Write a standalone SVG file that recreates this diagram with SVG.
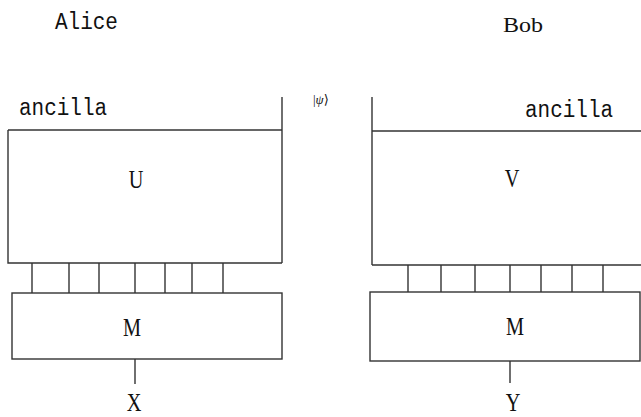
<svg xmlns="http://www.w3.org/2000/svg" width="641" height="417" viewBox="0 0 641 417">
<style>
.ln{stroke:#333;stroke-width:1.4;fill:none}
.bx{stroke:#333;stroke-width:1.4;fill:#fff}
.mono{font-family:"Liberation Mono","DejaVu Sans Mono",monospace;font-size:21px;fill:#111}
.ser{font-family:"Liberation Serif","DejaVu Serif",serif;fill:#111}
.big{font-size:26px;text-anchor:middle}
</style>
<rect width="641" height="417" fill="#fff"/>
<text class="mono" transform="translate(55,29) scale(1,1.15)">Alice</text>
<text class="ser" x="503" y="32" font-size="21" textLength="40" lengthAdjust="spacingAndGlyphs">Bob</text>
<text class="ser" x="313" y="104" font-size="13">|<tspan font-style="italic">ψ</tspan>⟩</text>
<g id="alice-U">
<line class="ln" x1="8" y1="130" x2="282" y2="130"/>
<line class="ln" x1="282" y1="97" x2="282" y2="263"/>
<polyline class="ln" points="8,130 8,263 282,263"/>
<text class="mono" transform="translate(19,115) scale(1,1.15)">ancilla</text>
<text class="ser big" transform="translate(136,188) scale(0.78,1)">U</text>
</g>
<g id="alice-M">
<rect class="bx" x="12" y="293" width="270" height="66"/>
<text class="ser big" transform="translate(132,336) scale(0.78,1)">M</text>
</g>
<g id="bob-V">
<line class="ln" x1="372" y1="97" x2="372" y2="265"/>
<line class="ln" x1="372" y1="131" x2="641" y2="131"/>
<line class="ln" x1="372" y1="265" x2="641" y2="265"/>
<text class="mono" transform="translate(525,117) scale(1,1.15)">ancilla</text>
<text class="ser big" transform="translate(512,187) scale(0.78,1)">V</text>
</g>
<g id="bob-M">
<rect class="bx" x="370" y="292" width="270" height="69"/>
<text class="ser big" transform="translate(515,335) scale(0.78,1)">M</text>
</g>
<g id="connectors">
<g class="ln">
<line x1="32" y1="263" x2="32" y2="293"/>
<line x1="69" y1="263" x2="69" y2="293"/>
<line x1="99" y1="263" x2="99" y2="293"/>
<line x1="135" y1="263" x2="135" y2="293"/>
<line x1="165" y1="263" x2="165" y2="293"/>
<line x1="192" y1="263" x2="192" y2="293"/>
<line x1="223" y1="263" x2="223" y2="293"/>
<line x1="135" y1="359" x2="135" y2="384"/>
<line x1="408" y1="265" x2="408" y2="292"/>
<line x1="441" y1="265" x2="441" y2="292"/>
<line x1="475" y1="265" x2="475" y2="292"/>
<line x1="510" y1="265" x2="510" y2="292"/>
<line x1="541" y1="265" x2="541" y2="292"/>
<line x1="572" y1="265" x2="572" y2="292"/>
<line x1="603" y1="265" x2="603" y2="292"/>
<line x1="510" y1="361" x2="510" y2="383"/>
</g>
</g>
<g id="outputs">
<text class="ser big" transform="translate(134,411) scale(0.78,1)">X</text>
<text class="ser big" transform="translate(513,411) scale(0.78,1)">Y</text>
</g>
</svg>
